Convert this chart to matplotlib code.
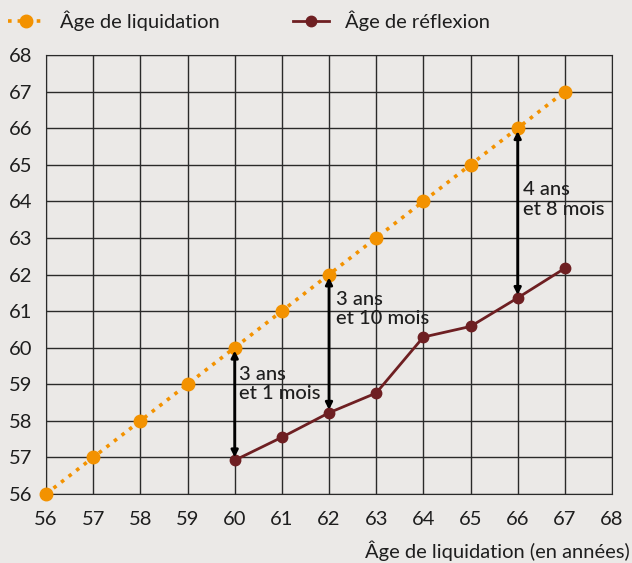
import matplotlib.pyplot as plt

plt.rcParams['font.family'] = ['Lato', 'DejaVu Sans']

ages = [56, 57, 58, 59, 60, 61, 62, 63, 64, 65, 66, 67]
liquidation = [56, 57, 58, 59, 60, 61, 62, 63, 64, 65, 66, 67]
ages_reflexion = [60, 61, 62, 63, 64, 65, 66, 67]
reflexion = [56.92, 57.55, 58.22, 58.76, 60.29, 60.58, 61.36, 62.17]

# arrows at these ages, with their annotation text
gap_ages = [60, 62, 66]
gap_texts = ["3 ans\net 1 mois", "3 ans\net 10 mois", "4 ans\net 8 mois"]
text_pos = [(60.1, 59.0), (62.15, 61.05), (66.12, 64.05)]

bg = '#ebe9e7'
orange = '#f39200'
maroon = '#6e1f22'
ink = '#1e1e1e'

fig = plt.figure(figsize=(6.32, 5.63), dpi=100, facecolor=bg)
ax = fig.add_axes([46 / 632, 1 - 494 / 563, 566 / 632, 439 / 563])
ax.set_facecolor(bg)

ax.plot(ages, liquidation, color=orange, linestyle=':', linewidth=2.6,
        marker='o', markersize=9, label='Âge de liquidation', zorder=3,
        clip_on=False)
ax.plot(ages_reflexion, reflexion, color=maroon, linewidth=2,
        marker='o', markersize=7.5, label='Âge de réflexion', zorder=3)

for age, txt, pos in zip(gap_ages, gap_texts, text_pos):
    top = liquidation[ages.index(age)]
    bot = reflexion[ages_reflexion.index(age)]
    ax.annotate('', xy=(age, top - 0.08), xytext=(age, bot + 0.08),
                arrowprops=dict(arrowstyle='<|-|>', color='black', lw=2,
                                mutation_scale=10, shrinkA=0, shrinkB=0), zorder=4)
    ax.text(pos[0], pos[1], txt, fontsize=14.5, fontweight='medium', color=ink,
            va='center', ha='left', linespacing=1.15, zorder=5)

ax.set_xlim(56, 68)
ax.set_ylim(56, 68)
ax.set_xticks(range(56, 69))
ax.set_yticks(range(56, 69))
ax.grid(True, color='#2a2a2a', linewidth=1)
ax.set_axisbelow(True)
for s in ax.spines.values():
    s.set_color('#2a2a2a')
ax.tick_params(length=0, labelsize=14.5, colors=ink)
ax.tick_params(axis='x', pad=12)
ax.tick_params(axis='y', pad=10)

fig.text(630 / 632, 1 - 551 / 563, 'Âge de liquidation (en années)', fontsize=14.5,
         color=ink, ha='right', va='center')

fig.legend(loc='center left', bbox_to_anchor=(0.0, 1 - 21 / 563), ncol=2,
           frameon=False, fontsize=14.5, handlelength=1.8, handletextpad=0.8,
           columnspacing=3.6, borderaxespad=0, labelcolor=ink)

fig.savefig('out.png', dpi=100, facecolor=bg)
